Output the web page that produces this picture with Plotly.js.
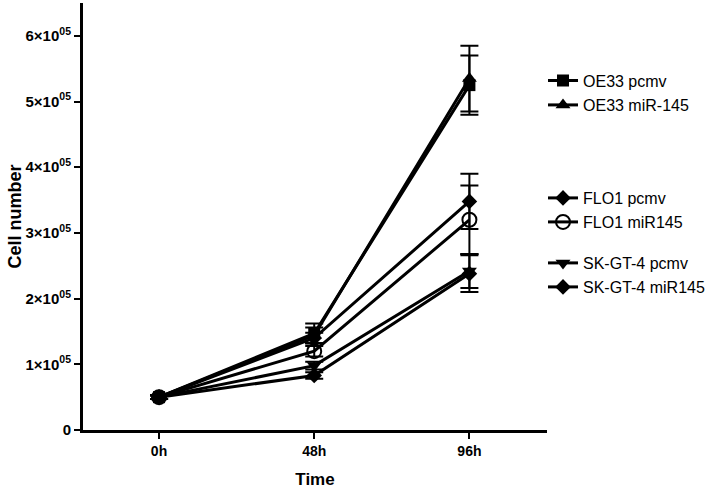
<!DOCTYPE html>
<html>
<head>
<meta charset="utf-8">
<script src="https://cdn.plot.ly/plotly-3.0.1.min.js"></script>
<style>html,body{margin:0;padding:0;background:#fff;}#chart{width:706px;height:491px;}</style>
</head>
<body>
<div id="chart"></div>
<script>
const timeLabels = ['0h', '48h', '96h'];
const seriesNames = ['OE33 pcmv', 'OE33 miR-145', 'FLO1 pcmv', 'FLO1 miR145', 'SK-GT-4 pcmv', 'SK-GT-4 miR145'];
const oe33Pcmv = [50000, 147000, 525000];
const oe33Mir = [50000, 144000, 535000];
const flo1Pcmv = [50000, 140000, 348000];
const flo1Mir = [50000, 120000, 320000];
const skPcmv = [50000, 98000, 242000];
const skMir = [50000, 83000, 238000];
const oe33PcmvErr = [3000, 15000, 45000];
const oe33MirErr = [3000, 12000, 50000];
const flo1PcmvErr = [3000, 8000, 42000];
const flo1MirErr = [3000, 8000, 52000];
const skPcmvErr = [3000, 6000, 26000];
const skMirErr = [3000, 5000, 28000];
const yTickVals = [0, 100000, 200000, 300000, 400000, 500000, 600000];
const yTickText = ['0', '1×10<sup>05</sup>', '2×10<sup>05</sup>', '3×10<sup>05</sup>', '4×10<sup>05</sup>', '5×10<sup>05</sup>', '6×10<sup>05</sup>'];

const values = [oe33Pcmv, oe33Mir, flo1Pcmv, flo1Mir, skPcmv, skMir];
const errs = [oe33PcmvErr, oe33MirErr, flo1PcmvErr, flo1MirErr, skPcmvErr, skMirErr];
const symbols = ['square', 'triangle-up', 'diamond', 'circle-open', 'triangle-down', 'diamond'];
const sizes = [12, 13, 12, 14, 13, 12];
const legendIds = ['legend', 'legend2', 'legend3', 'legend4', 'legend5', 'legend6'];
const legendY = [0.8185, 0.7611, 0.5433, 0.4871, 0.3911, 0.3349];

const FONT = 'Liberation Sans, Arial, sans-serif';

const traces = seriesNames.map((name, i) => ({
  type: 'scatter',
  mode: 'lines+markers',
  name: name,
  x: timeLabels,
  y: values[i],
  legend: legendIds[i],
  line: {color: '#000', width: 3},
  marker: {symbol: symbols[i], size: sizes[i], color: '#000', line: {color: '#000', width: symbols[i] === 'circle-open' ? 2 : 0}},
  error_y: {type: 'data', array: errs[i], visible: true, color: '#000', thickness: 2, width: 9},
  cliponaxis: false
}));

const layout = {
  width: 706, height: 491,
  margin: {l: 83, r: 159, t: 3, b: 61, autoexpand: false},
  paper_bgcolor: '#fff', plot_bgcolor: '#fff',
  font: {family: FONT, color: '#000'},
  showlegend: true,
  xaxis: {
    type: 'category',
    range: [-0.49, 2.5],
    automargin: true,
    showline: true, linewidth: 3, linecolor: '#000',
    ticks: 'outside', ticklen: 6, tickwidth: 2, tickcolor: '#000',
    showgrid: false, zeroline: false,
    tickfont: {family: FONT, size: 14, color: '#000', weight: 'bold'},
    title: {text: '<b>Time</b>', font: {size: 17, color: '#000'}, standoff: 16}
  },
  yaxis: {
    range: [0, 650000],
    automargin: true,
    showline: true, linewidth: 3, linecolor: '#000',
    ticks: 'outside', ticklen: 6, tickwidth: 2, tickcolor: '#000',
    showgrid: false, zeroline: false,
    tickvals: yTickVals, ticktext: yTickText,
    tickfont: {family: FONT, size: 15, color: '#000', weight: 'bold'},
    title: {text: '<b>Cell number</b>', font: {size: 18, color: '#000'}, standoff: 0}
  }
};

legendIds.forEach((id, i) => {
  layout[id] = {
    x: 0.9914, xanchor: 'left', y: legendY[i], yanchor: 'middle',
    bgcolor: 'rgba(0,0,0,0)', borderwidth: 0,
    font: {family: FONT, size: 16, color: '#000'},
    itemwidth: 30
  };
});

Plotly.newPlot('chart', traces, layout, {displayModeBar: false, staticPlot: true});
</script>
</body>
</html>
